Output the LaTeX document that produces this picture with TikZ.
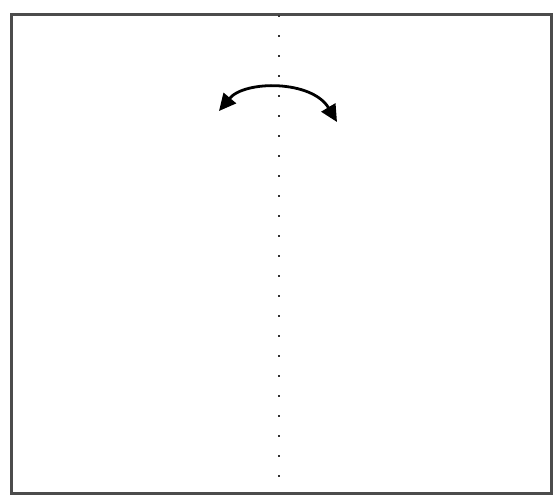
\documentclass[tikz,border=0pt]{standalone}
\usetikzlibrary{arrows.meta}
\begin{document}
\begin{tikzpicture}[x=0.5pt,y=-0.5pt,
  frame/.style={draw=black!70,line width=1.5pt},
  foldline/.style={draw=black!80,line width=1.2pt,dash pattern=on 1pt off 9pt},
  turnarrow/.style={draw=black,line width=1.4pt,{Triangle[length=8.5pt,width=8pt]}-{Triangle[length=8.5pt,width=8pt]}}]
\useasboundingbox (0,0) rectangle (554,495);
\coordinate (tl) at (12,14);
\coordinate (br) at (552,493);
\draw[frame] (tl) rectangle (br);
\coordinate (ftop) at (279,15);
\coordinate (fbot) at (279,493);
\draw[foldline] (ftop) -- (fbot);
\coordinate (al) at (219,111);
\coordinate (ar) at (337,122);
\draw[turnarrow] (al) .. controls (245,80) and (312,80) .. (ar);
\end{tikzpicture}
\end{document}
